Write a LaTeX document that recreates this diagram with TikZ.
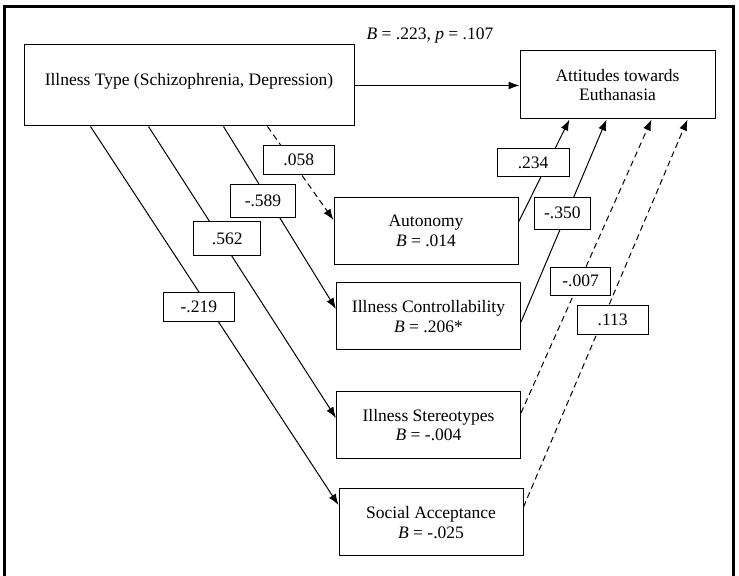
\documentclass[tikz,border=0pt]{standalone}
\usepackage{fontspec}
\setmainfont{Liberation Serif}
\usetikzlibrary{arrows.meta}

\begin{document}
\begin{tikzpicture}[x=0.5pt,y=-0.5pt,>={Latex[length=5.5pt,width=4pt]},
                    line width=0.5pt,
                    font=\fontsize{8.75}{9.75}\selectfont,
                    var/.style={draw,rectangle,inner sep=0pt,align=center,
                                minimum width=92pt,minimum height=33.5pt},
                    lbl/.style={draw,solid,fill=white,rectangle,inner sep=0pt,
                                minimum width=35.5pt,minimum height=14.5pt},
                    ns/.style={dash pattern=on 3pt off 2pt}]

  \clip (0,0) rectangle (739,576);
  \draw[line width=1.5pt] (4,7) rectangle (733,600);

  \node[var,minimum width=165pt,minimum height=40.5pt,text height=6pt,text depth=5.5pt]
                      (type)   at (189,85.5)  {Illness Type (Schizophrenia, Depression)};
  \node[var,minimum width=97.5pt,minimum height=34pt]
                      (att)    at (617.5,85)  {Attitudes towards\\Euthanasia};
  \node[var]          (auto)   at (426,231)   {Autonomy\\\textit{B} = .014};
  \node[var]          (ctrl)   at (428.5,316.5) {Illness Controllability\\\textit{B} = .206*};
  \node[var]          (stereo) at (428.5,425) {Illness Stereotypes\\\textit{B} = -.004};
  \node[var]          (social) at (431,522.5) {Social Acceptance\\\textit{B} = -.025};

  \node (bval) at (430,36) {\textit{B} = .223, \textit{p} = .107};

  % illness type -> mediators
  \draw[->] (type.east) -- (type.east -| att.west);
  \draw[->] ([xshift=33.5pt]type.south west) -- ([yshift=8.75pt]social.west)
            node[lbl,pos=.477,xshift=-5pt] {-.219};
  \draw[->] ([xshift=62.5pt]type.south west) -- ([yshift=3.5pt]stereo.west)
            node[lbl,pos=.385,xshift=3.25pt,minimum width=33.5pt,minimum height=17pt] {.562};
  \draw[->] ([xshift=100pt]type.south west) -- ([yshift=3.75pt]ctrl.west)
            node[lbl,pos=.409,xshift=-3.25pt,minimum width=32.5pt,minimum height=16.5pt] {-.589};
  \draw[->,ns] ([xshift=122pt]type.south west) -- ([yshift=5.5pt]auto.west)
            node[lbl,pos=.36,xshift=3.75pt] {.058};

  % mediators -> attitudes
  \draw[->] ([yshift=4.5pt]auto.east) -- ([xshift=25pt]att.south west)
            node[lbl,pos=.58,xshift=-7.5pt,minimum width=36pt,minimum height=14pt] {.234};
  \draw[->] ([yshift=-2.75pt]ctrl.east) -- ([xshift=43.5pt]att.south west)
            node[lbl,pos=.537,xshift=-2.3pt,minimum width=28pt,minimum height=16pt] {-.350};
  \draw[->,ns] ([yshift=6pt]stereo.east) -- ([xshift=66pt]att.south west)
            node[lbl,pos=.449,xshift=.5pt,minimum width=30pt,minimum height=14pt] {-.007};
  \draw[->,ns] ([yshift=7.75pt]social.east) -- ([xshift=84pt]att.south west)
            node[lbl,pos=.483,xshift=5pt] {.113};
\end{tikzpicture}
\end{document}
